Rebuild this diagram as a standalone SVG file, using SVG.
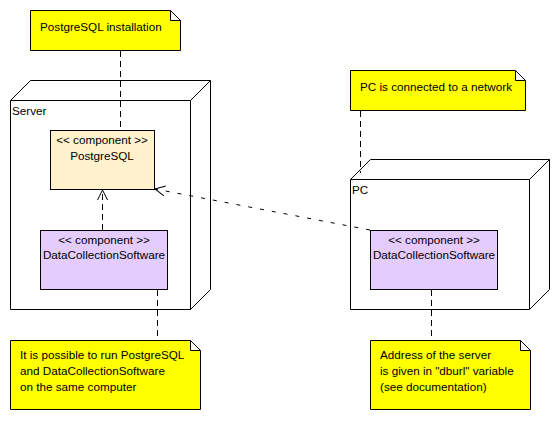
<svg xmlns="http://www.w3.org/2000/svg" width="560" height="441" viewBox="0 0 560 441">
<style>
text{font-family:"Liberation Sans",Arial,sans-serif;font-size:11.7px;fill:#000}
.c{text-anchor:middle}
.note{fill:#ffff00;stroke:#000;stroke-width:1}
.node{fill:#fff;stroke:#000;stroke-width:1}
.pg{fill:#fff2cc;stroke:#000;stroke-width:1}
.dcs{fill:#e5ccff;stroke:#000;stroke-width:1}
.dash{fill:none;stroke:#000;stroke-width:1;stroke-dasharray:6,4}
.dash2{fill:none;stroke:#000;stroke-width:1;stroke-dasharray:4,8}
</style>
<defs>
<marker id="open" markerWidth="12" markerHeight="12" refX="10" refY="5" orient="auto" markerUnits="userSpaceOnUse" viewBox="0 0 12 10">
<path d="M0,0 L10,5 L0,10" fill="none" stroke="#000" stroke-width="1"/>
</marker>
</defs>
<rect width="560" height="441" fill="#fff"/>
<g id="server">
<path class="node" d="M10.5,100.5 L30.5,80.5 L210.5,80.5 L210.5,289.5 L190.5,309.5 L10.5,309.5 Z"/>
<path class="node" d="M10.5,100.5 L190.5,100.5 L190.5,309.5 M190.5,100.5 L210.5,80.5" fill="none"/>
<text x="12" y="115">Server</text>
</g>
<g id="pc">
<path class="node" d="M350.5,179.5 L370.5,159.5 L549.5,159.5 L549.5,289.5 L529.5,309.5 L350.5,309.5 Z"/>
<path class="node" d="M350.5,179.5 L529.5,179.5 L529.5,309.5 M529.5,179.5 L549.5,159.5" fill="none"/>
<text x="352" y="194">PC</text>
</g>
<g id="postgresql">
<rect class="pg" x="50.5" y="130.5" width="104" height="59"/>
<text class="c" x="102" y="144">&lt;&lt; component &gt;&gt;</text>
<text class="c" x="102" y="160">PostgreSQL</text>
</g>
<g id="dcs-server">
<rect class="dcs" x="40.5" y="230.5" width="127" height="59"/>
<text class="c" x="104" y="244">&lt;&lt; component &gt;&gt;</text>
<text class="c" x="104" y="259">DataCollectionSoftware</text>
</g>
<g id="dcs-pc">
<rect class="dcs" x="370.5" y="230.5" width="127" height="59"/>
<text class="c" x="434" y="244">&lt;&lt; component &gt;&gt;</text>
<text class="c" x="434" y="259">DataCollectionSoftware</text>
</g>
<g id="note-install">
<path class="note" d="M30.5,10.5 L170.5,10.5 L180.5,20.5 L180.5,50.5 L30.5,50.5 Z M170.5,10.5 L170.5,20.5 L180.5,20.5"/>
<text x="40" y="31">PostgreSQL installation</text>
</g>
<g id="note-network">
<path class="note" d="M350.5,70.5 L515.5,70.5 L525.5,80.5 L525.5,110.5 L350.5,110.5 Z M515.5,70.5 L515.5,80.5 L525.5,80.5"/>
<text x="360" y="91">PC is connected to a network</text>
</g>
<g id="note-same">
<path class="note" d="M10.5,340.5 L190.5,340.5 L200.5,350.5 L200.5,409.5 L10.5,409.5 Z M190.5,340.5 L190.5,350.5 L200.5,350.5"/>
<text x="20" y="359">It is possible to run PostgreSQL</text>
<text x="20" y="375">and DataCollectionSoftware</text>
<text x="20" y="391">on the same computer</text>
</g>
<g id="note-dburl">
<path class="note" d="M370.5,340.5 L520.5,340.5 L530.5,350.5 L530.5,409.5 L370.5,409.5 Z M520.5,340.5 L520.5,350.5 L530.5,350.5"/>
<text x="380" y="359">Address of the server</text>
<text x="380" y="375">is given in "dburl" variable</text>
<text x="380" y="391">(see documentation)</text>
</g>
<g id="connectors">
<path class="dash" d="M120.5,51 L120.5,130"/>
<path class="dash" d="M360.5,111 L360.5,173"/>
<path class="dash" d="M157.5,290 L157.5,340"/>
<path class="dash" d="M431.5,290 L431.5,340"/>
<path class="dash" d="M102.5,230 L102.5,190" marker-end="url(#open)"/>
<path class="dash2" d="M370,230 L155,189" marker-end="url(#open)"/>
</g>
</svg>
